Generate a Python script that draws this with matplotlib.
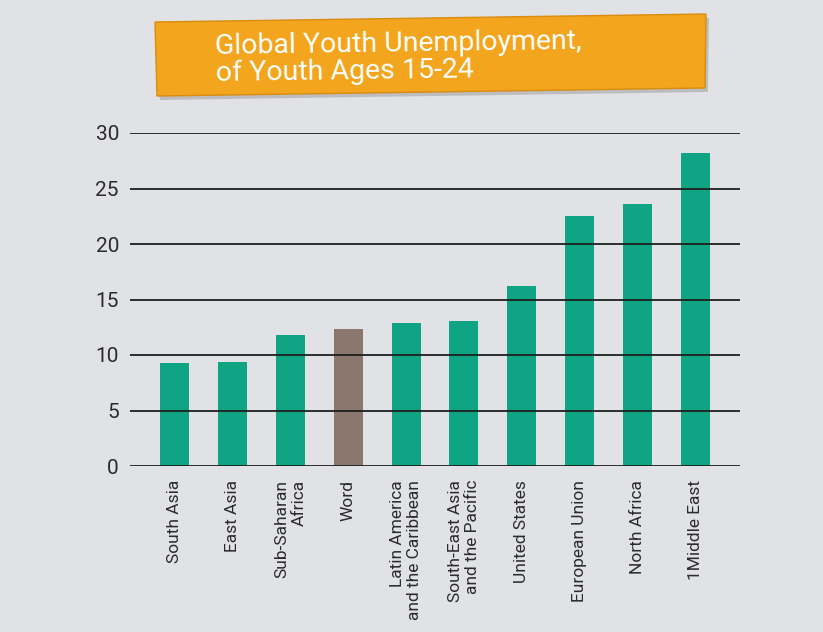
import matplotlib.pyplot as plt
from matplotlib.patches import Polygon
from matplotlib import rcParams
import numpy as np

rcParams['font.family'] = ['Liberation Sans Narrow', 'Roboto', 'DejaVu Sans']

regions = ['South Asia', 'East Asia', 'Sub-Saharan\nAfrica', 'Word',
           'Latin America\nand the Caribbean', 'South-East Asia\nand the Pacific',
           'United States', 'European Union', 'North Africa', '1Middle East']
rates = [9.3, 9.4, 11.8, 12.3, 12.9, 13.1, 16.2, 22.5, 23.6, 28.2]
highlight = 'Word'
yticks = [0, 5, 10, 15, 20, 25, 30]

bg = '#e1e2e5'
teal = '#0fa584'
brown = '#8b776d'

fig = plt.figure(figsize=(8.23, 6.32), dpi=100, facecolor=bg)
ax = fig.add_axes([130 / 823, 1 - 466 / 632, 610 / 823, 333 / 632])
ax.set_facecolor(bg)

x = np.arange(len(regions))
colors = [brown if r == highlight else teal for r in regions]
ax.bar(x, rates, width=0.5, color=colors, zorder=1)

ax.set_ylim(0, 30)
ax.set_xlim(-0.77, len(regions) - 0.23)
ax.set_yticks(yticks)
ax.set_yticklabels([str(t) for t in yticks], fontsize=15, color='#2b2b2b')
for t in yticks:
    ax.axhline(t, color='#1e1e1e', lw=1.3, zorder=3)
ax.set_xticks(x)
ax.set_xticklabels(regions, rotation=90, fontsize=12.5, color='#2b2b2b',
                   va='top', ha='center', multialignment='right')
ax.tick_params(length=0, pad=8)
ax.tick_params(axis='x', pad=10)
for s in ax.spines.values():
    s.set_visible(False)

# orange title banner, slightly tilted
W, H = 823, 632
banner = [(155, 22), (706, 14), (705, 88), (157, 96)]
shadow = [(p[0] + 3, p[1] + 4) for p in banner]
fig.patches.append(Polygon([(px / W, 1 - py / H) for px, py in shadow], closed=True,
                           transform=fig.transFigure, facecolor='#9a9a9a', alpha=0.5,
                           edgecolor='none', zorder=0))
fig.patches.append(Polygon([(px / W, 1 - py / H) for px, py in banner], closed=True,
                           transform=fig.transFigure, facecolor='#f2a51d',
                           edgecolor='#d98c10', lw=1, zorder=1))
fig.text(215 / W, 1 - 57 / H, 'Global Youth Unemployment,\nof Youth Ages 15-24',
         fontsize=20.5, color='white', ha='left', va='center',
         linespacing=1.0, rotation=0.8, zorder=2)

fig.savefig('out.png', dpi=100, facecolor=bg)
